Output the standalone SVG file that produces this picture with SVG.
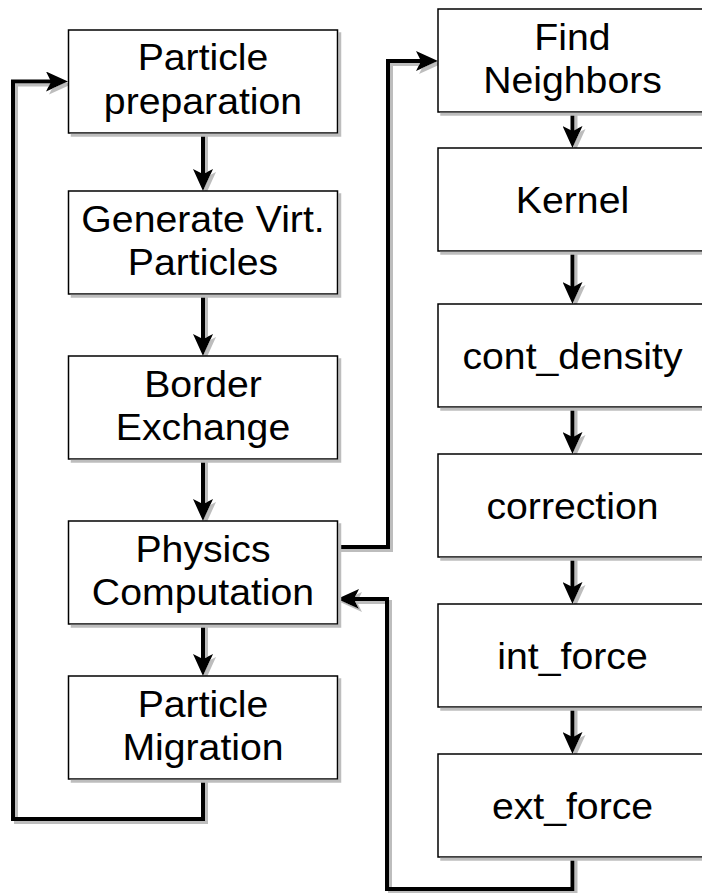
<svg xmlns="http://www.w3.org/2000/svg" width="702" height="893" viewBox="0 0 702 893">
  <style>
    .box { fill: #ffffff; stroke: #000000; stroke-width: 1.5; filter: url(#shadow); }
    .lbl { font-family: "Liberation Sans", Arial, Helvetica, sans-serif; font-size: 37px; fill: #000000; text-anchor: middle; }
    .edge { fill: none; stroke: #000000; stroke-width: 4; stroke-linejoin: miter; marker-end: url(#arrow); }
    .edges { filter: url(#shadow); }
  </style>
  <defs>
    <!-- flat grey drop shadow, offset down-right -->
    <filter id="shadow" filterUnits="userSpaceOnUse" x="0" y="0" width="702" height="893">
      <feOffset in="SourceAlpha" dx="3" dy="3" result="off"/>
      <feFlood flood-color="#bdbdbd"/>
      <feComposite in2="off" operator="in" result="sh"/>
      <feMerge>
        <feMergeNode in="sh"/>
        <feMergeNode in="SourceGraphic"/>
      </feMerge>
    </filter>
    <!-- classic notched arrowhead; path ends 15px before the tip -->
    <marker id="arrow" markerUnits="userSpaceOnUse" markerWidth="22" markerHeight="20" viewBox="0 0 22 20" refX="7" refY="10" orient="auto">
      <path d="M0,0 L22,10 L0,20 L5,10 Z" fill="#000000"/>
    </marker>
  </defs>

  <rect width="702" height="893" fill="#ffffff"/>

  <!-- connectors -->
  <g id="connectors" class="edges">
    <path class="edge" d="M203,132 V176"/>
    <path class="edge" d="M203,294 V341"/>
    <path class="edge" d="M203,459 V506"/>
    <path class="edge" d="M203,624 V661"/>
    <path class="edge" d="M572.5,112 V133"/>
    <path class="edge" d="M572.5,251 V289"/>
    <path class="edge" d="M572.5,407 V439"/>
    <path class="edge" d="M572.5,557 V589"/>
    <path class="edge" d="M572.5,707 V739"/>
    <path class="edge" d="M203,779 V819 H13 V81.5 H53"/>
    <path class="edge" d="M337,547 H388 V61 H423"/>
    <path class="edge" d="M572.5,857 V889 H387 V599 H352"/>
  </g>

  <!-- left column -->
  <g id="particle-preparation">
    <rect class="box" x="68.5" y="30" width="269" height="103"/>
    <g transform="translate(203,0) scale(1.06,1)">
      <text class="lbl" x="0" y="70.5">Particle</text>
      <text class="lbl" x="0" y="114.5">preparation</text>
    </g>
  </g>
  <g id="generate-virtual-particles">
    <rect class="box" x="68.5" y="191" width="269" height="103"/>
    <g transform="translate(203,0) scale(1.06,1)">
      <text class="lbl" x="0" y="232">Generate Virt.</text>
      <text class="lbl" x="0" y="275.5">Particles</text>
    </g>
  </g>
  <g id="border-exchange">
    <rect class="box" x="68.5" y="356" width="269" height="103"/>
    <g transform="translate(203,0) scale(1.06,1)">
      <text class="lbl" x="0" y="397">Border</text>
      <text class="lbl" x="0" y="440">Exchange</text>
    </g>
  </g>
  <g id="physics-computation">
    <rect class="box" x="68.5" y="521" width="269" height="103"/>
    <g transform="translate(203,0) scale(1.06,1)">
      <text class="lbl" x="0" y="562">Physics</text>
      <text class="lbl" x="0" y="605.5">Computation</text>
    </g>
  </g>
  <g id="particle-migration">
    <rect class="box" x="68.5" y="676" width="269" height="103"/>
    <g transform="translate(203,0) scale(1.06,1)">
      <text class="lbl" x="0" y="717">Particle</text>
      <text class="lbl" x="0" y="760.5">Migration</text>
    </g>
  </g>

  <!-- right column -->
  <g id="find-neighbors">
    <rect class="box" x="438" y="9" width="269" height="103"/>
    <g transform="translate(572.5,0) scale(1.06,1)">
      <text class="lbl" x="0" y="50">Find</text>
      <text class="lbl" x="0" y="93.5">Neighbors</text>
    </g>
  </g>
  <g id="kernel">
    <rect class="box" x="438" y="148" width="269" height="103"/>
    <g transform="translate(572.5,0) scale(1.06,1)">
      <text class="lbl" x="0" y="213">Kernel</text>
    </g>
  </g>
  <g id="cont-density">
    <rect class="box" x="438" y="304" width="269" height="103"/>
    <g transform="translate(572.5,0) scale(1.06,1)">
      <text class="lbl" x="0" y="369">cont_density</text>
    </g>
  </g>
  <g id="correction">
    <rect class="box" x="438" y="454" width="269" height="103"/>
    <g transform="translate(572.5,0) scale(1.06,1)">
      <text class="lbl" x="0" y="519">correction</text>
    </g>
  </g>
  <g id="int-force">
    <rect class="box" x="438" y="604" width="269" height="103"/>
    <g transform="translate(572.5,0) scale(1.06,1)">
      <text class="lbl" x="0" y="669">int_force</text>
    </g>
  </g>
  <g id="ext-force">
    <rect class="box" x="438" y="754" width="269" height="103"/>
    <g transform="translate(572.5,0) scale(1.06,1)">
      <text class="lbl" x="0" y="819">ext_force</text>
    </g>
  </g>
</svg>
